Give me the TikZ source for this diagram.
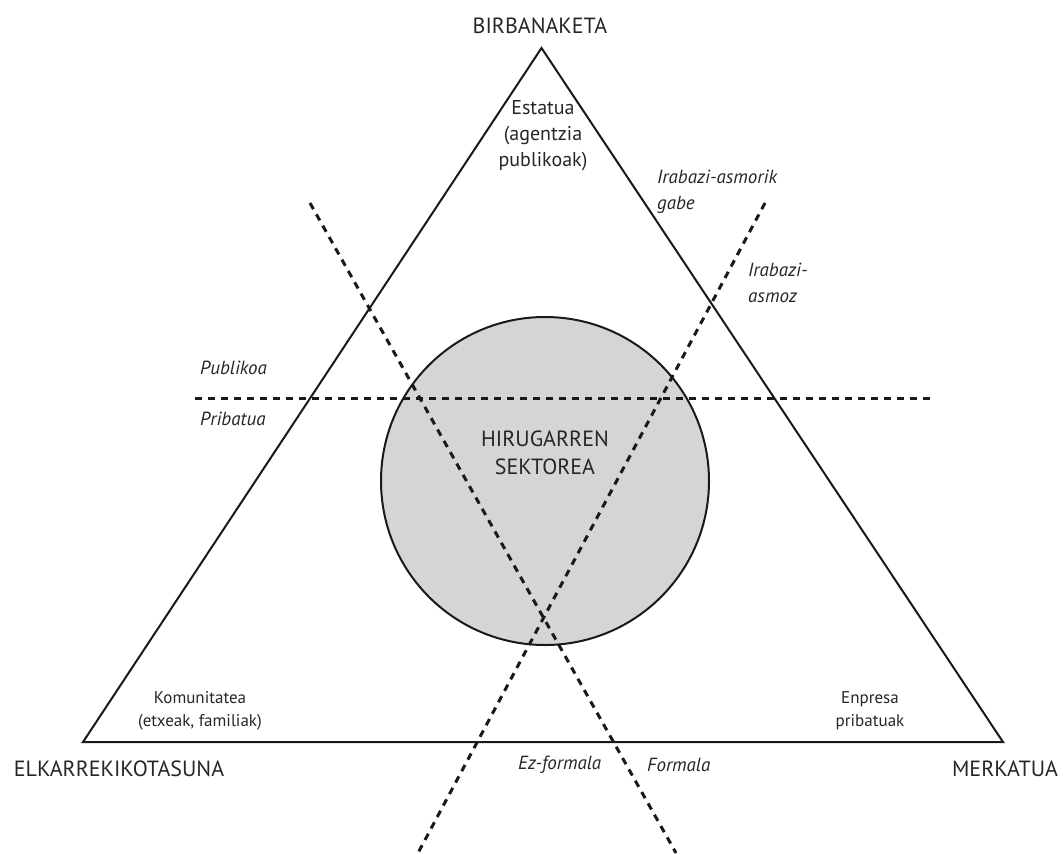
\documentclass[tikz,border=0pt]{standalone}
\usepackage{fontspec}
\setmainfont{PT Sans}
\definecolor{txt}{HTML}{262626}
\definecolor{fillg}{HTML}{D4D5D7}
\begin{document}
\begin{tikzpicture}[x=1pt,y=-1pt,
  big/.style={text=txt,font=\fontsize{22}{26}\selectfont,inner sep=0pt,anchor=base},
  med/.style={text=txt,font=\fontsize{20}{26}\selectfont,inner sep=0pt,align=center},
  sml/.style={text=txt,font=\fontsize{17}{23}\selectfont,inner sep=0pt,align=center},
  ital/.style={text=txt,font=\fontsize{19}{26}\selectfont\itshape,inner sep=0pt,align=left,anchor=west},
  solidline/.style={draw=black!90,line width=2pt,line join=miter},
  dashline/.style={draw=black!90,line width=3pt,dash pattern=on 7pt off 6pt}]
\useasboundingbox (0,0) rectangle (1063,854);
% sector circle
\node[circle,fill=fillg,draw=black!90,line width=2pt,minimum size=328pt,inner sep=0pt] (circ) at (545,481) {};
% triangle
\coordinate (top) at (541.5,48);
\coordinate (bl) at (83,742);
\coordinate (br) at (1003,742);
\draw[solidline] (top) -- (bl) -- (br) -- cycle;
% dashed lines
\coordinate (h1) at (195,398);
\coordinate (h2) at (932,398);
\coordinate (a1) at (310,203);
\coordinate (a2) at (676,853);
\coordinate (b1) at (765,203);
\coordinate (b2) at (418,853);
\draw[dashline] (h1) -- (h2);
\draw[dashline] (a1) -- (a2);
\draw[dashline] (b1) -- (b2);
% corner labels
\node[big] (lbirb) at (540,33) {BIRBANAKETA};
\node[big] (lelk) at (119,776) {ELKARREKIKOTASUNA};
\node[big] (lmerk) at (1005,776) {MERKATUA};
% inner labels
\node[med] (lest) at (543,136) {Estatua\\(agentzia\\publikoak)};
\node[sml] (lkom) at (200,711) {Komunitatea\\(etxeak, familiak)};
\node[sml] (lenp) at (870,711) {Enpresa\\pribatuak};
\node[med,font=\fontsize{22}{28}\selectfont] (lhir) at (545,453) {HIRUGARREN\\SEKTOREA};
% italic labels
\node[ital] (lpub) at (200,368) {Publikoa};
\node[ital] (lpri) at (200,419) {Pribatua};
\node[ital] (lirg) at (657,192) {Irabazi-asmorik\\gabe};
\node[ital] (liraz) at (748,283) {Irabazi-\\asmoz};
\node[ital] (lezf) at (518,765) {Ez-formala};
\node[ital] (lform) at (647,765) {Formala};
\end{tikzpicture}
\end{document}
